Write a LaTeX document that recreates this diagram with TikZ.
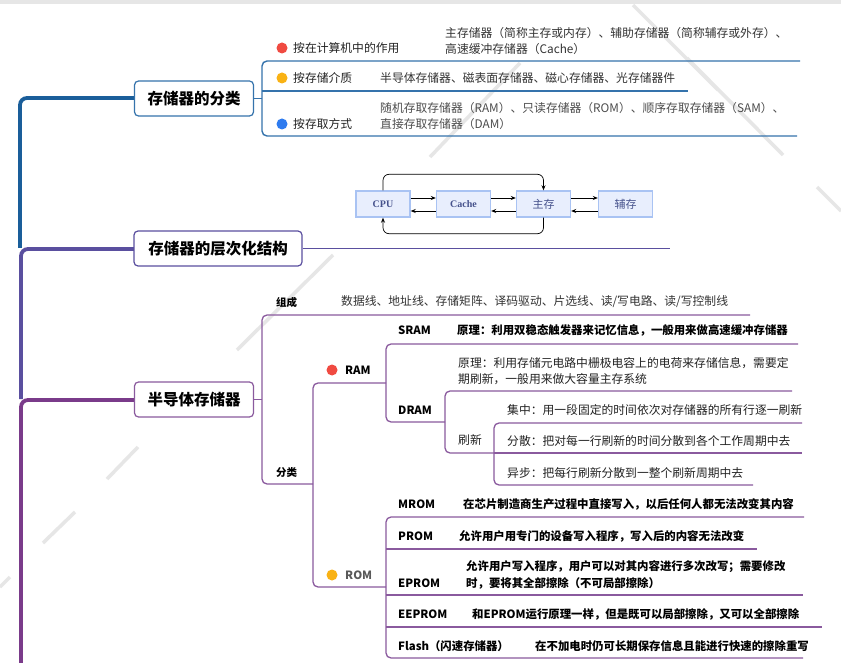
\documentclass[tikz,border=0pt]{standalone}
\usepackage{fontspec}
\setmainfont{Noto Sans CJK SC}
\newfontfamily\serifbox{Liberation Serif}
\usetikzlibrary{arrows.meta}
\definecolor{spblue}{HTML}{1A5E9A}
\definecolor{lnblue}{HTML}{3573AC}
\definecolor{spslate}{HTML}{5A4F9F}
\definecolor{sppurple}{HTML}{7A3B8A}
\definecolor{lnpurple}{HTML}{8A5A9E}
\definecolor{dotred}{HTML}{F04A41}
\definecolor{dotorange}{HTML}{F9B214}
\definecolor{dotblue}{HTML}{2E7BEF}
\definecolor{boxfill}{HTML}{E8EEFD}
\definecolor{boxline}{HTML}{A9C3F3}
\definecolor{boxtext}{HTML}{46528C}
\definecolor{wm}{HTML}{E6E6E6}
\definecolor{txtdark}{HTML}{222222}
\definecolor{txtval}{HTML}{333333}
\tikzset{
  mainnode/.style={draw, rounded corners=4pt, line width=1.2pt, fill=white, minimum height=35pt, inner sep=0pt, font=\fontsize{15.5}{18}\selectfont\bfseries, text=black},
  lbl/.style={anchor=west, inner sep=0pt, font=\fontsize{11.8}{16}\selectfont, text=txtdark, align=left},
  val/.style={anchor=west, inner sep=0pt, font=\fontsize{11.8}{16}\selectfont, text=txtval, align=left},
  blbl/.style={anchor=west, inner sep=0pt, font=\fontsize{11.4}{17}\selectfont\bfseries, text=black, align=left},
  slbl/.style={anchor=west, inner sep=0pt, font=\fontsize{10.5}{13}\selectfont\bfseries, text=black},
  bl/.style={draw=lnblue, line width=1.4pt, rounded corners=5pt},
  pl/.style={draw=lnpurple, line width=1.3pt, rounded corners=5pt},
  membox/.style={draw=boxline, fill=boxfill, line width=1.4pt, minimum width=54pt, minimum height=26pt, inner sep=0pt, text=boxtext},
  arr/.style={-{Stealth[length=5pt,width=4pt]}, line width=0.7pt, black},
  wmline/.style={draw=wm, line width=3.5pt}
}
\begin{document}
\begin{tikzpicture}[x=1pt,y=-1pt]
\useasboundingbox (0,0) rectangle (841,663);
\fill[white] (0,0) rectangle (841,663);
\fill[wm] (0,0) rectangle (841,4);
% watermark strokes
\draw[wmline] (633,5) -- (718,90);
\draw[wmline] (687,58) -- (783,155);
\draw[wmline] (520,63) -- (430,157);
\draw[wmline] (817,187) -- (841,211);
\draw[wmline] (333,255) -- (237,350);
\draw[wmline] (138,447) -- (107,479);
\draw[wmline] (75,512) -- (43,543);
\draw[wmline] (10,577) -- (0,587);

% spine
\draw[spblue, line width=3.8pt, rounded corners=7pt] (136,98) -- (20,98) -- (20,248);
\draw[spslate, line width=3.8pt, rounded corners=7pt] (136,249) -- (21,249) -- (21,399);
\draw[sppurple, line width=3.8pt, rounded corners=7pt] (136,400) -- (21,400) -- (21,670);

% main nodes
\node[mainnode, draw=lnblue, minimum width=119pt] (n1) at (194,98.5) {存储器的分类};
\node[mainnode, draw=spslate, minimum width=168pt] (n2) at (218,248.5) {存储器的层次化结构};
\node[mainnode, draw=lnpurple, minimum width=119pt] (n3) at (194,399.5) {半导体存储器};

% section 1
\draw[bl] (n1.east) -- (262,98.5);
\draw[bl] (800,61) -- (262,61) -- (262,136) -- (797,136);
\draw[bl] (262,91) -- (688,91);
\fill[dotred] (282,48) circle (5.5pt);
\fill[dotorange] (282,78) circle (5.5pt);
\fill[dotblue] (282,124) circle (5.5pt);
\node[lbl] (c1) at (293,48) {按在计算机中的作用};
\node[lbl] (c2) at (293,78) {按存储介质};
\node[lbl] (c3) at (293,124) {按存取方式};
\node[val] (v1) at (445,41) {主存储器（简称主存或内存）、辅助存储器（简称辅存或外存）、\\高速缓冲存储器（Cache）};
\node[val] (v2) at (380,78) {半导体存储器、磁表面存储器、磁心存储器、光存储器件};
\node[val, text=black!70] (v3) at (380,116) {随机存取存储器（RAM）、只读存储器（ROM）、顺序存取存储器（SAM）、\\直接存取存储器（DAM）};

% section 2
\draw[spslate, line width=1.3pt] (n2.east) -- (670,248.5);
\node[membox, font=\serifbox\fontsize{10}{12}\selectfont\bfseries] (cpu) at (383,204) {CPU};
\node[membox, font=\serifbox\fontsize{10}{12}\selectfont\bfseries] (cache) at (463.5,204) {Cache};
\node[membox, font=\fontsize{11}{12}\selectfont] (mainm) at (543.5,204) {主存};
\node[membox, font=\fontsize{11}{12}\selectfont] (aux) at (625.5,204) {辅存};
\draw[arr] ([yshift=6pt]cpu.east) -- ([yshift=6pt]cache.west);
\draw[arr] ([yshift=-7pt]cache.west) -- ([yshift=-7pt]cpu.east);
\draw[arr] ([yshift=6pt]cache.east) -- ([yshift=6pt]mainm.west);
\draw[arr] ([yshift=-7pt]mainm.west) -- ([yshift=-7pt]cache.east);
\draw[arr] ([yshift=6pt]mainm.east) -- ([yshift=6pt]aux.west);
\draw[arr] ([yshift=-7pt]aux.west) -- ([yshift=-7pt]mainm.east);
\draw[arr, rounded corners=6pt] (cpu.north) -- ++(0,-16) -| (mainm.north);
\draw[arr, rounded corners=6pt] (mainm.south) -- ++(0,16) -| (cpu.south);

% section 3
\draw[pl] (n3.east) -- (262,399.5);
\draw[pl] (750,315) -- (262,315) -- (262,484) -- (313,484);
\node[slbl] (zc) at (276,302) {组成};
\node[val] (zcv) at (341,302) {数据线、地址线、存储矩阵、译码驱动、片选线、读/写电路、读/写控制线};
\node[slbl] (fl) at (276,473) {分类};
% RAM / ROM
\draw[pl] (386,383) -- (313,383) -- (313,587) -- (386,587);
\fill[dotred] (332,370) circle (5.5pt);
\fill[dotorange] (332,575) circle (5.5pt);
\node[blbl] (ram) at (345,370) {RAM};
\node[blbl, text=black!65] (rom) at (345,575) {ROM};
% RAM children
\draw[pl] (798,344) -- (386,344) -- (386,422) -- (445,422);
\node[blbl] (sram) at (398,330) {SRAM};
\node[blbl] (sramt) at (457,330) {原理：利用双稳态触发器来记忆信息，一般用来做高速缓冲存储器};
\node[blbl] (dram) at (398,410) {DRAM};
\draw[pl] (792,391) -- (445,391) -- (445,453) -- (494,453);
\node[lbl] (dramt) at (458,371.5) {原理：利用存储元电路中栅极电容上的电荷来存储信息，需要定\\期刷新，一般用来做大容量主存系统};
\node[lbl] (sx) at (458,440) {刷新};
\draw[pl] (802,423) -- (494,423) -- (494,485) -- (753,485);
\draw[pl] (494,453) -- (802,453);
\node[lbl] (jz) at (507,410) {集中：用一段固定的时间依次对存储器的所有行逐一刷新};
\node[lbl] (fs) at (507,441) {分散：把对每一行刷新的时间分散到各个工作周期中去};
\node[lbl] (yb) at (507,473) {异步：把每行刷新分散到一整个刷新周期中去};
% ROM children
\draw[pl] (804,517) -- (386,517) -- (386,658) -- (803,658);
\draw[pl] (386,549) -- (757,549);
\draw[pl] (386,595) -- (803,595);
\draw[pl] (386,627) -- (822,627);
\node[blbl] (mrom) at (398,504) {MROM};
\node[blbl] (mromt) at (463,504) {在芯片制造商生产过程中直接写入，以后任何人都无法改变其内容};
\node[blbl] (prom) at (398,536) {PROM};
\node[blbl] (promt) at (459,536) {允许用户用专门的设备写入程序，写入后的内容无法改变};
\node[blbl] (eprom) at (398,583) {EPROM};
\node[blbl] (epromt) at (466,575) {允许用户写入程序，用户可以对其内容进行多次改写；需要修改\\时，要将其全部擦除（不可局部擦除）};
\node[blbl] (eeprom) at (398,614) {EEPROM};
\node[blbl] (eepromt) at (472,614) {和EPROM运行原理一样，但是既可以局部擦除，又可以全部擦除};
\node[blbl] (flash) at (398,646) {Flash（闪速存储器）};
\node[blbl] (flasht) at (535,646) {在不加电时仍可长期保存信息且能进行快速的擦除重写};
\end{tikzpicture}
\end{document}
